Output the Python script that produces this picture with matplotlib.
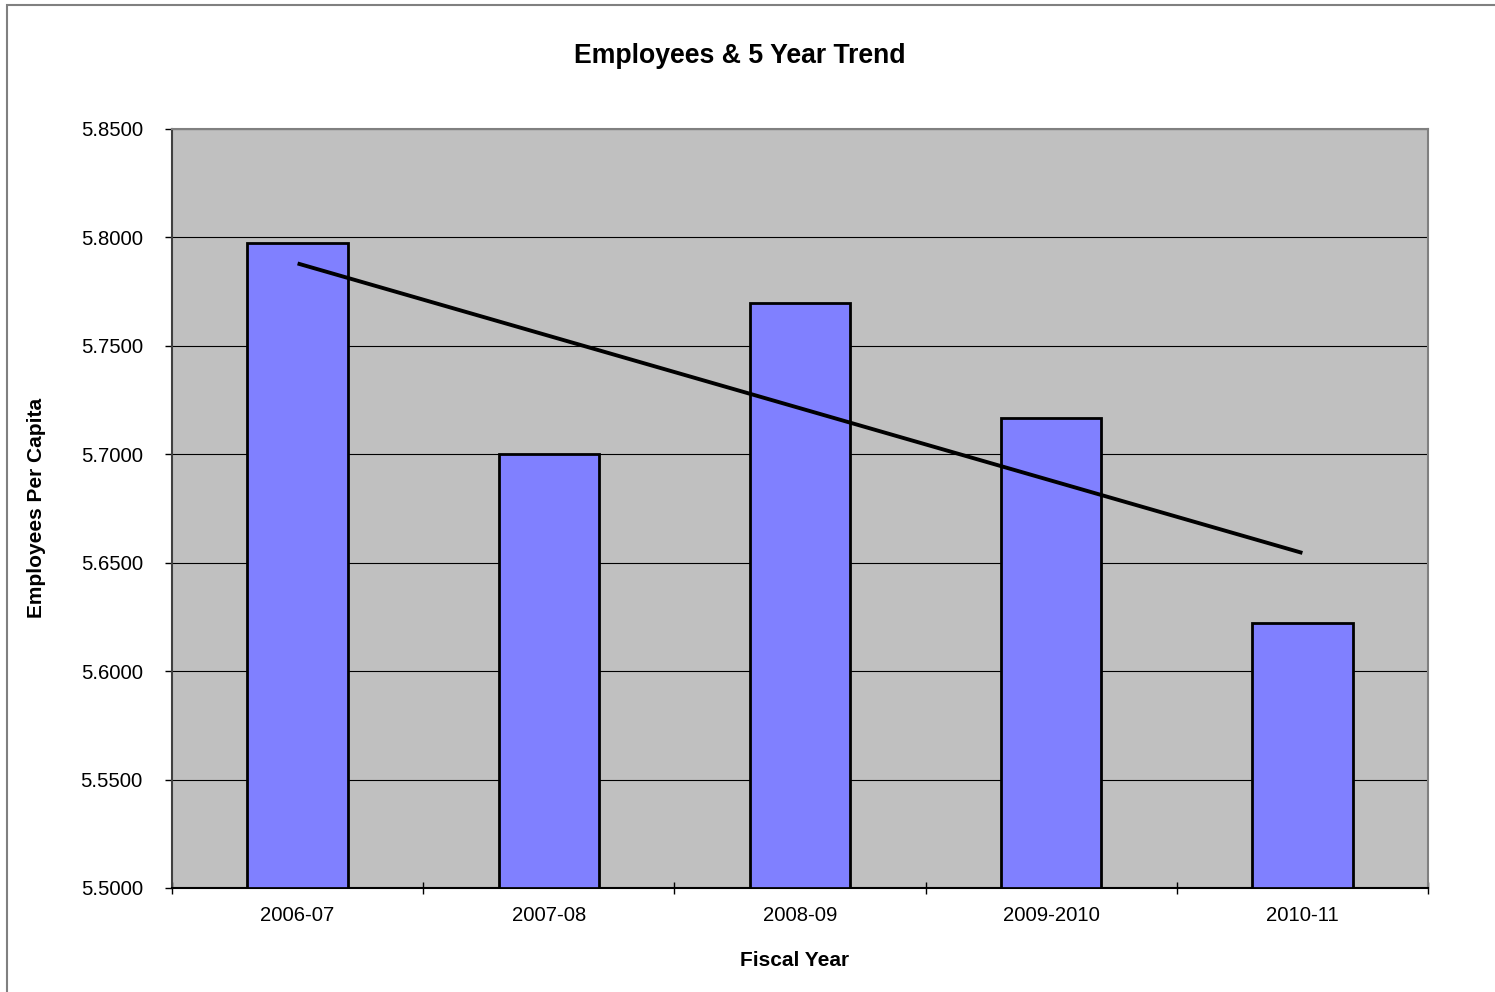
import numpy as np
import matplotlib
matplotlib.use("Agg")
import matplotlib.pyplot as plt
from matplotlib.patches import Rectangle

plt.rcParams['font.family'] = ['Liberation Sans', 'DejaVu Sans']

years = ['2006-07', '2007-08', '2008-09', '2009-2010', '2010-11']
employees = [5.7974, 5.7000, 5.7698, 5.7167, 5.6222]
# trend line end points
trend_x = [0, 4]
trend_y = [5.7880, 5.6545]
yticks = [5.50, 5.55, 5.60, 5.65, 5.70, 5.75, 5.80, 5.85]

fig = plt.figure(figsize=(14.95, 9.92), dpi=100)
fig.patch.set_facecolor('white')

# outer chart border
fig.patches.append(Rectangle((7 / 1495, -0.01), 1.05, 1 - 5 / 992 + 0.01,
                             transform=fig.transFigure, fill=False,
                             edgecolor='#808080', linewidth=1.5))

ax = fig.add_axes([172 / 1495, 104 / 992, 1256 / 1495, 759 / 992])
ax.set_facecolor('#C0C0C0')

x = np.arange(len(years))
ax.bar(x, np.array(employees) - 5.5, bottom=5.5, width=0.4, color='#8080FF',
       edgecolor='black', linewidth=2.0, zorder=3)
ax.plot(trend_x, trend_y, color='black', linewidth=2.8, zorder=4,
        solid_capstyle='butt')

ax.set_xlim(-0.5, 4.5)
ax.set_ylim(5.5, 5.85)
ax.set_yticks(yticks)
ax.set_yticklabels([f'{v:.4f}' for v in yticks])
ax.yaxis.grid(True, color='black', linewidth=0.8, zorder=1)
ax.set_axisbelow(True)

ax.set_xticks(x)
ax.set_xticklabels(years)
ax.set_xticks(np.arange(-0.5, 5.0, 1.0), minor=True)
ax.tick_params(axis='x', which='major', length=0, pad=13, labelsize=14.6)
ax.tick_params(axis='x', which='minor', direction='inout', length=9, width=1)
ax.tick_params(axis='y', direction='out', length=5, width=1, labelsize=14.6,
               pad=16)

for s in ['top', 'right', 'left']:
    ax.spines[s].set_color('#808080')
    ax.spines[s].set_linewidth(1.5)
ax.spines['left'].set_color('#404040')
ax.spines['bottom'].set_color('black')
ax.spines['bottom'].set_linewidth(1.5)

fig.text(740 / 1495, 1 - 56 / 992, 'Employees & 5 Year Trend', ha='center',
         va='center', fontsize=19.2, fontweight='bold')
fig.text(795 / 1495, 1 - 960 / 992, 'Fiscal Year', ha='center', va='center',
         fontsize=15, fontweight='bold')
fig.text(37 / 1495, 1 - 508 / 992, 'Employees Per Capita', ha='center',
         va='center', rotation=90, fontsize=15, fontweight='bold')

fig.savefig('out.png', dpi=100)
